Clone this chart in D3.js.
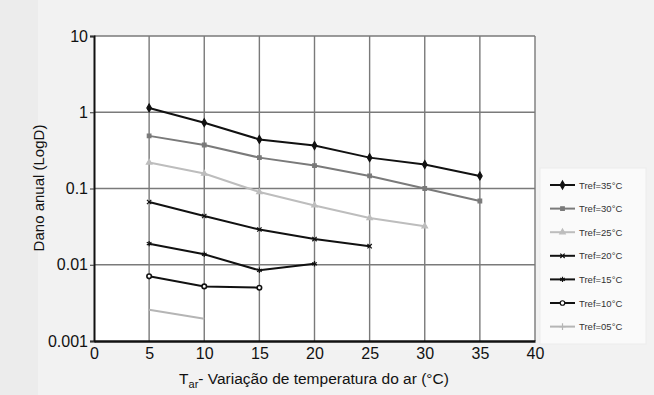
<!DOCTYPE html>
<html lang="pt">
<head>
<meta charset="utf-8">
<script src="https://d3js.org/d3.v7.min.js"></script>
<style>
body { margin: 0; background: #ececec; }
svg { display: block; font-family: Arial, "Liberation Sans", sans-serif; }
.tick text { font-size: 16px; fill: #111; }
.grid line { stroke: #7a7a7a; stroke-width: 1.4; }
.leg text { font-size: 9.5px; fill: #333; font-family: "Liberation Sans Narrow", "Arial Narrow", sans-serif; }
</style>
</head>
<body>
<svg id="chart" width="654" height="395"></svg>
<script>
// x values (°C)
var xVals = [5, 10, 15, 20, 25, 30, 35];
var yTicks = [10, 1, 0.1, 0.01, 0.001];
var xTicks = [0, 5, 10, 15, 20, 25, 30, 35, 40];

var tref35 = [1.14, 0.73, 0.44, 0.366, 0.254, 0.206, 0.146];
var tref30 = [0.49, 0.372, 0.254, 0.2, 0.146, 0.1, 0.0686];
var tref25 = [0.219, 0.157, 0.09, 0.06, 0.041, 0.032];
var tref20 = [0.0665, 0.0436, 0.029, 0.0217, 0.0175];
var tref15 = [0.0189, 0.0137, 0.00845, 0.0103];
var tref10 = [0.00705, 0.0052, 0.005];
var tref05 = [0.00257, 0.00196];

var seriesNames = ["Tref=35°C", "Tref=30°C", "Tref=25°C", "Tref=20°C", "Tref=15°C", "Tref=10°C", "Tref=05°C"];
var seriesVals = [tref35, tref30, tref25, tref20, tref15, tref10, tref05];
var colors = ["#111", "#7a7a7a", "#bdbdbd", "#111", "#111", "#111", "#b5b5b5"];
var shapes = [d3.symbolDiamond, d3.symbolSquare, d3.symbolTriangle, d3.symbolTimes, d3.symbolAsterisk, d3.symbolCircle, d3.symbolPlus];
var sizes = [18, 13, 13, 14, 20, 16, 0];

var svg = d3.select("#chart");
var m = {left: 94, right: 535, top: 36, bottom: 341};

// faint page tone
svg.append("rect").attr("x", 38).attr("y", 0).attr("width", 616).attr("height", 395).attr("fill", "#f2f2f2");

var x = d3.scaleLinear().domain([0, 40]).range([m.left, m.right]);
var y = d3.scaleLog().domain([0.001, 10]).range([m.bottom, m.top]);

svg.append("rect").attr("x", m.left).attr("y", m.top)
  .attr("width", m.right - m.left).attr("height", m.bottom - m.top).attr("fill", "#fff");

// grid
var grid = svg.append("g").attr("class", "grid");
grid.selectAll(".v").data(xTicks.slice(1)).enter().append("line")
  .attr("x1", d => x(d)).attr("x2", d => x(d)).attr("y1", m.top).attr("y2", m.bottom);
grid.selectAll(".h").data(yTicks.slice(0, 4)).enter().append("line")
  .attr("x1", m.left).attr("x2", m.right).attr("y1", d => y(d)).attr("y2", d => y(d));

// axes
var xAxis = svg.append("g").attr("transform", "translate(0," + m.bottom + ")")
  .call(d3.axisBottom(x).tickValues(xTicks).tickSize(0).tickPadding(7).tickFormat(d3.format("d")));
xAxis.select(".domain").attr("stroke", "#111").attr("stroke-width", 2.5);

var yAxis = svg.append("g").attr("transform", "translate(" + m.left + ",0)")
  .call(d3.axisLeft(y).tickValues(yTicks).tickSize(4).tickPadding(2).tickFormat(d => String(d)));
yAxis.select(".domain").attr("stroke", "#111").attr("stroke-width", 2);
yAxis.selectAll(".tick line").attr("stroke", "#333");

// titles
var xt = svg.append("text").attr("x", 314).attr("y", 384).attr("text-anchor", "middle")
  .attr("font-size", 15.5).attr("fill", "#111");
xt.append("tspan").text("T");
xt.append("tspan").attr("font-size", 11).attr("dy", 4).text("ar");
xt.append("tspan").attr("dy", -4).text("- Variação de temperatura do ar (°C)");

svg.append("text").attr("transform", "translate(44,188) rotate(-90)")
  .attr("text-anchor", "middle").attr("font-size", 15).attr("fill", "#111")
  .text("Dano anual (LogD)");

// series
var line = d3.line().x((d, i) => x(xVals[i])).y(d => y(d));
seriesVals.forEach(function(vals, k) {
  var g = svg.append("g");
  g.append("path").attr("d", line(vals)).attr("fill", "none")
    .attr("stroke", colors[k]).attr("stroke-width", 2);
  if (!sizes[k]) return;
  var open = k === 5;
  g.selectAll("path.mk").data(vals).enter().append("path").attr("class", "mk")
    .attr("transform", (d, i) => "translate(" + x(xVals[i]) + "," + y(d) + ")")
    .attr("d", d3.symbol().type(shapes[k]).size(sizes[k]))
    .attr("fill", open ? "#fff" : colors[k])
    .attr("stroke", colors[k]).attr("stroke-width", open ? 1.6 : 1.2);
});

// legend
var leg = svg.append("g").attr("class", "leg");
leg.append("rect").attr("x", 540).attr("y", 168).attr("width", 106).attr("height", 176)
  .attr("fill", "#fafafa").attr("stroke", "#ececec");
seriesNames.forEach(function(name, k) {
  var ly = 185 + k * 23.6;
  leg.append("line").attr("x1", 550).attr("x2", 575).attr("y1", ly).attr("y2", ly)
    .attr("stroke", colors[k]).attr("stroke-width", 2);
  leg.append("path").attr("transform", "translate(562.5," + ly + ")")
    .attr("d", d3.symbol().type(shapes[k]).size(sizes[k] || 16))
    .attr("fill", k === 5 ? "#fff" : colors[k]).attr("stroke", colors[k]).attr("stroke-width", 1.2);
  leg.append("text").attr("x", 579).attr("y", ly + 3.5).text(name);
});
</script>
</body>
</html>
